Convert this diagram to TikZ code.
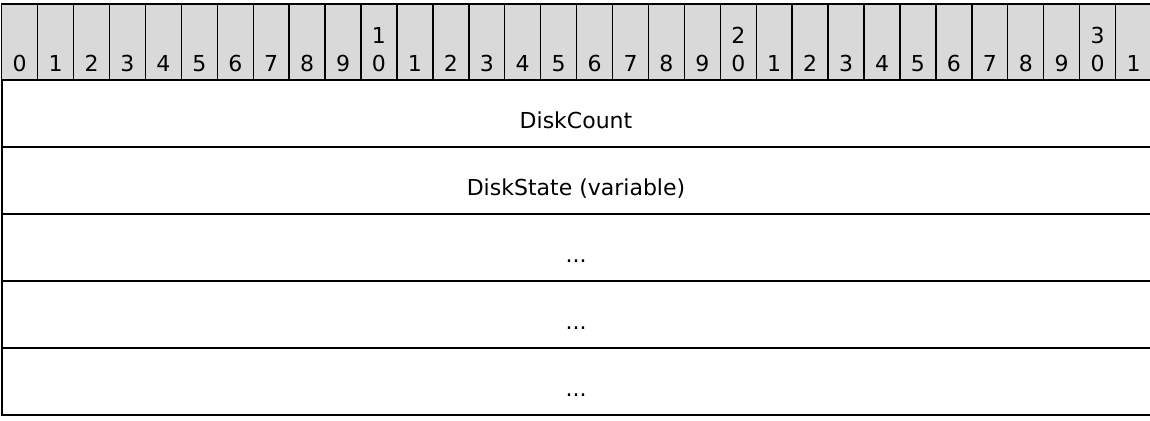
\documentclass[tikz,border=0pt]{standalone}
\usepackage{fontspec}
\setmainfont{DejaVu Sans}
\definecolor{hdrgray}{RGB}{217,217,217}
\begin{document}
\begin{tikzpicture}[x=0.5pt,y=-0.5pt,
  font=\fontsize{11}{13}\selectfont,
  hcell/.style={draw=black, line width=0.7pt, fill=hdrgray, minimum width=17.97pt, minimum height=38pt, inner sep=0pt, outer sep=0pt},
  rowcell/.style={draw=black, line width=1pt, minimum width=575.4pt, minimum height=33.5pt, inner sep=0pt, outer sep=0pt},
  lbl/.style={anchor=base, inner sep=0pt, outer sep=0pt}]
\useasboundingbox (0,0) rectangle (1150,420);
\pgfmathsetmacro{\w}{1149.8/32}
\foreach \i in {0,...,31}{
  \pgfmathsetmacro{\cx}{1.7+(\i+0.5)*\w}
  \node[hcell] (h\i) at (\cx,42) {};
}
\foreach \i in {0,...,31}{
  \pgfmathsetmacro{\cx}{1.7+(\i+0.5)*\w}
  \pgfmathtruncatemacro{\ones}{mod(\i,10)}
  \pgfmathtruncatemacro{\tens}{int(\i/10)}
  \node[lbl] (d\i) at (\cx,71) {\ones};
  \ifnum\ones=0 \ifnum\tens>0 \node[lbl] (t\i) at (\cx,43) {\tens};\fi\fi
}
\node[rowcell] (r1) at (577.1,113.5) {};
\node[rowcell] (r2) at (577.1,180.5) {};
\node[rowcell] (r3) at (577.1,247.5) {};
\node[rowcell] (r4) at (577.1,314.5) {};
\node[rowcell] (r5) at (577.1,381.5) {};
\node[lbl] (x1) at (576,128) {DiskCount};
\node[lbl] (x2) at (576,195) {DiskState (variable)};
\node[lbl] (x3) at (576,262) {...};
\node[lbl] (x4) at (576,329) {...};
\node[lbl] (x5) at (576,396) {...};
\end{tikzpicture}
\end{document}
